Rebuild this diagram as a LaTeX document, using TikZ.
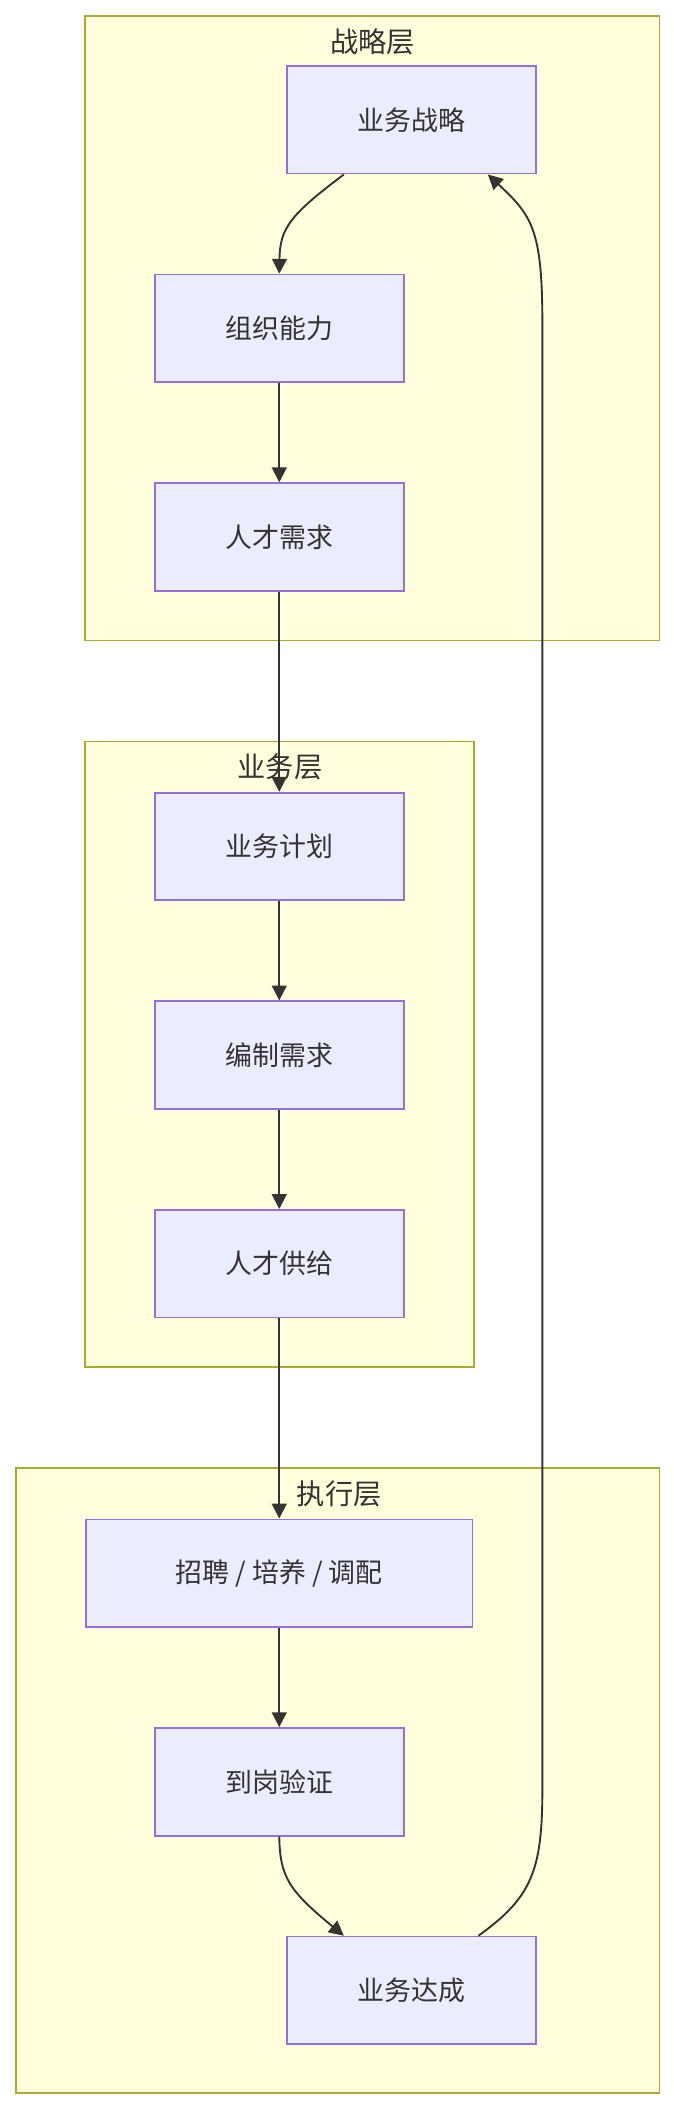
\documentclass[tikz,border=0pt]{standalone}
\usepackage{fontspec}
\setmainfont{Noto Sans CJK SC}
\usetikzlibrary{arrows.meta,positioning}
\definecolor{boxfill}{HTML}{ECECFF}
\definecolor{boxline}{HTML}{9370DB}
\definecolor{layerfill}{HTML}{FFFFDE}
\definecolor{layerline}{HTML}{AAAA33}
\definecolor{edge}{HTML}{333333}

\begin{document}
\begin{tikzpicture}[
    x=1pt, y=-1pt,
    stepbox/.style={rectangle, draw=boxline, fill=boxfill, line width=1.3pt, minimum width=185pt, minimum height=80pt, font=\fontsize{20}{24}\selectfont, text=edge},
    layer/.style={draw=layerline, fill=layerfill, line width=1.3pt},
    layertitle/.style={font=\fontsize{21}{24}\selectfont, text=edge},
    arrow/.style={-{Triangle[length=11pt,width=11pt]}, edge, line width=1.4pt}
]
\useasboundingbox (0,0) rectangle (500.4,1563.4);

% Layers
\draw[layer] (63,12) rectangle (490,476);
\node[layertitle] (t1) at (277,31) {战略层};
\draw[layer] (63,551) rectangle (352,1016);
\node[layertitle] (t2) at (208,570) {业务层};
\draw[layer] (12,1091) rectangle (490,1555);
\node[layertitle] (t3) at (252,1110) {执行层};

% Strategy
\node[stepbox] (strategy) at (305.5,89) {业务战略};
\node[stepbox] (capability) at (207.5,244) {组织能力};
\node[stepbox] (demand) at (207.5,399) {人才需求};

% Business
\node[stepbox] (plan) at (207.5,629) {业务计划};
\node[stepbox] (staffing) at (207.5,784) {编制需求};
\node[stepbox] (supply) at (207.5,939) {人才供给};

% Execution
\node[stepbox, minimum width=287pt] (hire) at (207.5,1169) {招聘 / 培养 / 调配};
\node[stepbox] (onboard) at (207.5,1324) {到岗验证};
\node[stepbox] (result) at (305.5,1479) {业务达成};

% Arrows
\draw[arrow] ([xshift=-50pt]strategy.south) .. controls (215,160) and (208,170) .. (capability.north);
\draw[arrow] (capability) -- (demand);
\draw[arrow] (demand) -- (plan);
\draw[arrow] (plan) -- (staffing);
\draw[arrow] (staffing) -- (supply);
\draw[arrow] (supply) -- (hire);
\draw[arrow] (hire) -- (onboard);
\draw[arrow] (onboard.south) .. controls (208,1395) and (215,1405) .. ([xshift=-50pt]result.north);
\coordinate (up) at (403,1330);
\coordinate (top) at (403,240);
\draw[arrow] ([xshift=50pt]result.north) .. controls (395,1410) and (403,1390) .. (up) -- (top) .. controls (403,170) and (395,160) .. ([xshift=57pt]strategy.south);
\end{tikzpicture}
\end{document}
